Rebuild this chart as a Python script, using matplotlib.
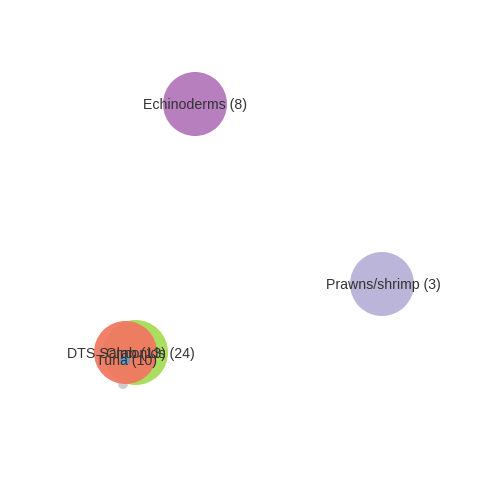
import matplotlib.pyplot as plt
from matplotlib.patches import Circle

# node layout (pixel-like coordinates, y pointing down)
labels = ["DTS Salmonids (24)", "", "Crab (13)", "Tuna (10)", "Echinoderms (8)", "Prawns/shrimp (3)"]
node_x = [135.5, 123, 125.5, 125, 195, 382]
node_y = [352.5, 384, 352.5, 360, 104, 284]
node_r = [32.5, 5, 31.5, 5, 32, 32]
label_x = [130.5, 123, 136, 127, 195, 383]
colors = ["#a6dc57", "#cccccc", "#f17862", "#5d9bd3", "#b378bb", "#b8b1d8"]

fig = plt.figure(figsize=(4.8, 4.8), dpi=100)
ax = fig.add_axes([0, 0, 1, 1])
ax.set_xlim(0, 480)
ax.set_ylim(480, 0)
ax.set_aspect("equal")
ax.axis("off")

for x, y, r, c in zip(node_x, node_y, node_r, colors):
    ax.add_patch(Circle((x, y), r, facecolor=c, edgecolor="none", alpha=0.95))

for x, y, lab in zip(label_x, node_y, labels):
    if lab:
        ax.text(x, y + 1.5, lab, ha="center", va="center", fontsize=10.2,
                color="#333333", family="Liberation Sans")

fig.savefig("out.png", dpi=100)
